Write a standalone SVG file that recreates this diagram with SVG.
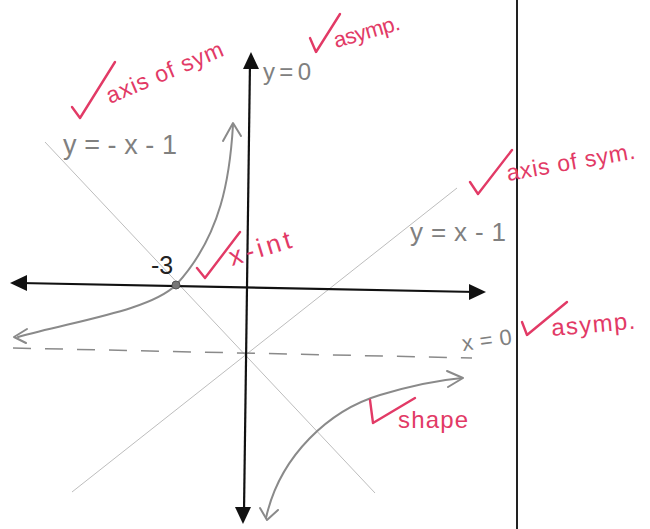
<svg xmlns="http://www.w3.org/2000/svg" width="650" height="529" viewBox="0 0 650 529">
<style>
.axis{stroke:#111;stroke-width:2.2;fill:none}
.head{fill:#111;stroke:none}
.diag{stroke:#bdbdbd;stroke-width:1;fill:none}
.curve{stroke:#8a8a8a;stroke-width:2;fill:none;stroke-linecap:round;stroke-linejoin:round}
.dash{stroke:#8a8a8a;stroke-width:1.5;stroke-dasharray:18 14;fill:none}
.pencil{font-family:"Liberation Sans",Arial,sans-serif;fill:#808080}
.red{font-family:"Liberation Sans",Arial,sans-serif;fill:#e23a66}
.tick{stroke:#e23a66;stroke-width:2.4;fill:none;stroke-linecap:round;stroke-linejoin:round}
</style>
<rect width="650" height="529" fill="#fff"/>
<line x1="517" y1="0" x2="517" y2="529" stroke="#222" stroke-width="2"/>
<g id="asymptotes">
<line class="diag" x1="45" y1="142" x2="375" y2="493"/>
<line class="diag" x1="72" y1="492" x2="457" y2="188"/>
<line class="dash" x1="13" y1="348" x2="472" y2="358"/>
</g>
<g id="axes">
<line class="axis" x1="250" y1="62" x2="244" y2="512"/>
<polygon class="head" points="251,52 243,69 259,69"/>
<polygon class="head" points="243,524 235,507 251,507"/>
<line class="axis" x1="20" y1="283" x2="476" y2="292"/>
<polygon class="head" points="10,283 27,275 27,291"/>
<polygon class="head" points="486,292 469,284 469,300"/>
</g>
<g id="curves">
<path class="curve" d="M233,125 C230,175 222,235 176,285 C150,310 80,320 18,337"/>
<polyline class="curve" points="223,141 233,123 241,136"/>
<polyline class="curve" points="27,329 14,337 26,343"/>
<path class="curve" d="M266,518 C280,455 330,410 380,395 C410,386 440,380 462,378"/>
<polyline class="curve" points="260,508 267,520 278,510"/>
<polyline class="curve" points="447,371 463,378 448,387"/>
<circle cx="176" cy="285" r="4" fill="#777" stroke="#555" stroke-width="1"/>
</g>
<g id="pencil-labels">
<text class="pencil" x="63" y="154" font-size="27" textLength="114" lengthAdjust="spacing">y=-x-1</text>
<text class="pencil" x="263" y="80" font-size="24" textLength="48" lengthAdjust="spacing">y=0</text>
<text class="pencil" x="410" y="241" font-size="26" textLength="96" lengthAdjust="spacing">y=x-1</text>
<text class="pencil" x="463" y="351" font-size="22" textLength="50" lengthAdjust="spacing" transform="rotate(-8 463 351)">x=0</text>
<text x="151" y="274" font-size="25" font-family="Liberation Sans, Arial, sans-serif" fill="#222">-3</text>
</g>
<g id="marks">
<polyline class="tick" points="72,107 80,118 115,62"/>
<text class="red" x="110" y="104" font-size="23" textLength="125" lengthAdjust="spacing" transform="rotate(-23 110 104)">axis of sym</text>
<polyline class="tick" points="310,38 316,52 340,14"/>
<text class="red" x="336" y="48" font-size="22" textLength="68" lengthAdjust="spacing" transform="rotate(-16 336 48)">asymp.</text>
<polyline class="tick" points="470,182 478,194 512,150"/>
<text class="red" x="508" y="181" font-size="23" textLength="130" lengthAdjust="spacing" transform="rotate(-10 508 181)">axis of sym.</text>
<polyline class="tick" points="197,268 205,278 240,232"/>
<text class="red" x="232" y="266" font-size="26" textLength="64" lengthAdjust="spacing" transform="rotate(-17 232 266)">x-int</text>
<polyline class="tick" points="522,322 527,335 567,302"/>
<text class="red" x="552" y="336" font-size="24" textLength="84" lengthAdjust="spacing" transform="rotate(-5 552 336)">asymp.</text>
<polyline class="tick" points="370,400 373,423 415,398"/>
<text class="red" x="398" y="428" font-size="24" textLength="70" lengthAdjust="spacing">shape</text>
</g>
</svg>
